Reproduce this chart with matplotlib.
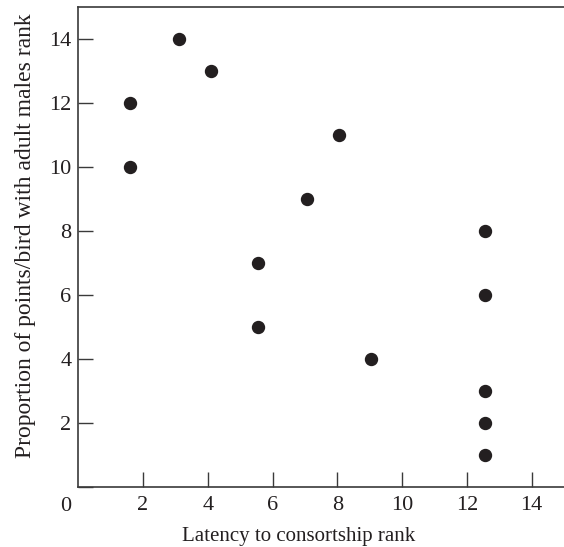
import matplotlib.pyplot as plt

# data
latency_rank = [1.6, 1.6, 3.1, 4.1, 5.55, 5.55, 7.05, 8.05, 9.05, 12.55, 12.55, 12.55, 12.55, 12.55]
points_rank = [12, 10, 14, 13, 7, 5, 9, 11, 4, 8, 6, 3, 2, 1]
xtick_vals = [2, 4, 6, 8, 10, 12, 14]
ytick_vals = [0, 2, 4, 6, 8, 10, 12, 14]

serif = ['Liberation Serif', 'DejaVu Serif']
plt.rcParams['font.family'] = serif

fig = plt.figure(figsize=(5.64, 5.47), dpi=100)
ax = fig.add_axes([0.1388, 0.1092, 0.8612, 0.8775])

ax.scatter(latency_rank, points_rank, s=74, color='#231f20', zorder=3, clip_on=False)

ax.set_xlim(0, 15)
ax.set_ylim(0, 15)
ax.set_xticks(xtick_vals)
ax.set_yticks(ytick_vals)
ax.set_yticklabels([''] + [str(v) for v in ytick_vals[1:]])

spine_col = '#3a3a3a'
for s in ['left', 'bottom', 'top']:
    ax.spines[s].set_color(spine_col)
    ax.spines[s].set_linewidth(1.2)
ax.spines['right'].set_visible(False)

ax.tick_params(direction='in', length=11, width=1.0, color=spine_col,
               labelsize=16, labelcolor='#231f20')
ax.tick_params(axis='x', pad=6)
ax.tick_params(axis='y', pad=5)

# shared origin label
ax.annotate('0', xy=(0, 0), xytext=(-9, -7), textcoords='offset points',
            ha='center', va='top', fontsize=16, color='#231f20', family=serif)

ax.set_xlabel('Latency to consortship rank', fontsize=15, color='#231f20', family=serif)
ax.xaxis.set_label_coords(0.454, -0.083)
ax.set_ylabel('Proportion of points/bird with adult males rank', fontsize=17,
              color='#231f20', family=serif)
ax.yaxis.set_label_coords(-0.087, 0.524)

fig.savefig('out.png', dpi=100)
